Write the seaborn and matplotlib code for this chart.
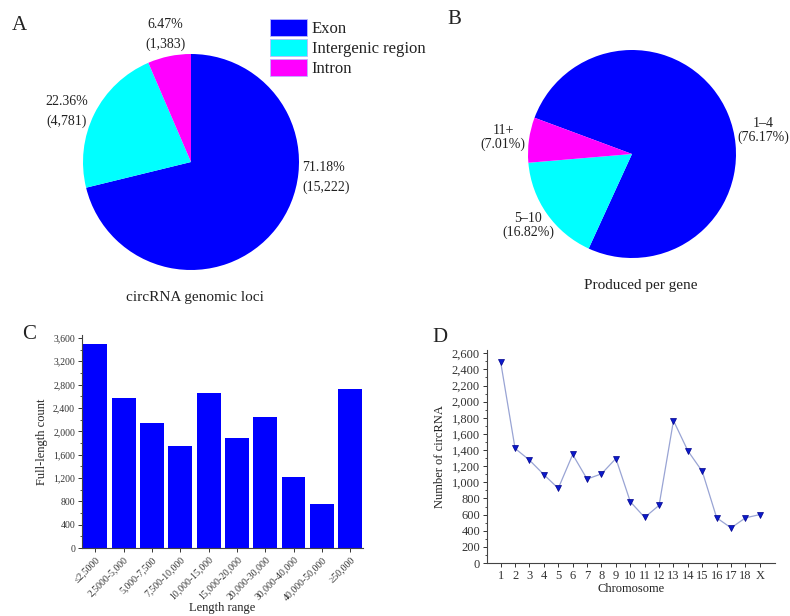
import matplotlib
matplotlib.use("Agg")
import matplotlib.pyplot as plt
import numpy as np
import pandas as pd
import seaborn as sns
from matplotlib.patches import Patch
from matplotlib.ticker import AutoMinorLocator, MultipleLocator, StrMethodFormatter

# --- Data ---
LOCI_LABELS = ["Exon", "Intergenic region", "Intron"]
LOCI_COUNTS = [15222, 4781, 1383]
LOCI_PCT = [71.18, 22.36, 6.47]

PER_GENE_LABELS = ["1–4", "5–10", "11+"]
PER_GENE_PCT = [76.17, 16.82, 7.01]

LENGTH_RANGES = ["≤2,5000", "2,5000-5,000", "5,000-7,500", "7,500-10,000",
                 "10,000-15,000", "15,000-20,000", "20,000-30,000",
                 "30,000-40,000", "40,000-50,000", "≥50,000"]
LENGTH_COUNTS = [3500, 2570, 2140, 1750, 2650, 1890, 2240, 1220, 750, 2730]

CHROMOSOMES = ["1", "2", "3", "4", "5", "6", "7", "8", "9", "10", "11", "12",
               "13", "14", "15", "16", "17", "18", "X"]
CIRC_COUNTS = [2490, 1420, 1275, 1095, 925, 1345, 1040, 1105, 1295, 760, 565,
               715, 1765, 1390, 1135, 560, 435, 560, 600]

PIE_COLORS = ["#0000FF", "#00FFFF", "#FF00FF"]
TEXT_COLOR = "#222222"

# --- Style ---
sns.set_theme(style="ticks")
plt.rcParams["font.family"] = ["Liberation Serif", "DejaVu Serif"]
plt.rcParams["text.color"] = TEXT_COLOR
plt.rcParams["axes.labelcolor"] = TEXT_COLOR
plt.rcParams["xtick.color"] = "#333333"
plt.rcParams["ytick.color"] = "#333333"

W, H = 790, 616
fig = plt.figure(figsize=(W / 100, H / 100), dpi=100)


def px_axes(left, top, width, height):
    """Axes placed by pixel box (top-left origin)."""
    return fig.add_axes([left / W, 1 - (top + height) / H, width / W, height / H])


# ==============================================================================
# Panel A: genomic loci pie
# ==============================================================================
ra = 108
ax_a = px_axes(191 - ra, 162 - ra, 2 * ra, 2 * ra)
ax_a.pie(LOCI_COUNTS, colors=PIE_COLORS, startangle=90, counterclock=False,
         radius=1, wedgeprops=dict(linewidth=0))
ax_a.set_xlim(-1, 1)
ax_a.set_ylim(-1, 1)
ax_a.set_aspect("equal")
ax_a.axis("off")

a_label_pos = [(1.03, -0.14, "left"), (-1.15, 0.47, "center"), (-0.24, 1.18, "center")]
for (x, y, ha), pct, cnt in zip(a_label_pos, LOCI_PCT, LOCI_COUNTS):
    ax_a.text(x, y, f"{pct:.2f}%\n({cnt:,})", ha=ha, va="center", fontsize=10,
              linespacing=1.65, clip_on=False)
ax_a.text(0.04, -1.25, "circRNA genomic loci", ha="center", va="center",
          fontsize=11, clip_on=False)

handles = [Patch(facecolor=c, edgecolor="#b8b8ff", linewidth=0.6) for c in PIE_COLORS]
fig.legend(handles, LOCI_LABELS, loc="upper left",
           bbox_to_anchor=(270 / W, 1 - 19 / H), bbox_transform=fig.transFigure,
           frameon=False, fontsize=12, handlelength=2.2, handleheight=1.15,
           labelspacing=0.14, handletextpad=0.3, borderpad=0, borderaxespad=0)

# ==============================================================================
# Panel B: circRNAs produced per gene
# ==============================================================================
rb = 104
ax_b = px_axes(632 - rb, 154 - rb, 2 * rb, 2 * rb)
ax_b.pie(PER_GENE_PCT, colors=PIE_COLORS, startangle=159.6, counterclock=False,
         radius=1, wedgeprops=dict(linewidth=0))
ax_b.set_xlim(-1, 1)
ax_b.set_ylim(-1, 1)
ax_b.set_aspect("equal")
ax_b.axis("off")

b_label_pos = [(1.26, 0.23), (-1.0, -0.69), (-1.24, 0.16)]
for (x, y), lab, pct in zip(b_label_pos, PER_GENE_LABELS, PER_GENE_PCT):
    ax_b.text(x, y, f"{lab}\n({pct:.2f}%)", ha="center", va="center", fontsize=10,
              linespacing=1.05, clip_on=False)
ax_b.text(0.08, -1.26, "Produced per gene", ha="center", va="center",
          fontsize=11, clip_on=False)

# ==============================================================================
# Panel C: full-length count by length range
# ==============================================================================
ax_c = px_axes(82, 335, 281, 213)
df_len = pd.DataFrame({"range": LENGTH_RANGES, "count": LENGTH_COUNTS})
sns.barplot(data=df_len, x="range", y="count", color="#0000FF", saturation=1,
            width=0.84, linewidth=0, ax=ax_c)
ax_c.set_xlim(-0.47, 9.45)
ax_c.set_ylim(0, 3650)
ax_c.yaxis.set_major_locator(MultipleLocator(400))
ax_c.yaxis.set_minor_locator(AutoMinorLocator(2))
ax_c.yaxis.set_major_formatter(StrMethodFormatter("{x:,.0f}"))
ax_c.tick_params(axis="both", labelsize=7, length=3, width=0.7, pad=2)
ax_c.tick_params(axis="y", which="minor", length=1.8, width=0.6)
plt.setp(ax_c.get_xticklabels(), rotation=45, ha="right", rotation_mode="anchor")
ax_c.set_xlabel("Length range", fontsize=9, labelpad=0)
ax_c.set_ylabel("Full-length count", fontsize=9, labelpad=4)
sns.despine(ax=ax_c)
for sp in ax_c.spines.values():
    sp.set_linewidth(0.8)
    sp.set_color("#444444")

# ==============================================================================
# Panel D: circRNAs per chromosome
# ==============================================================================
ax_d = px_axes(487, 350, 288, 213)
df_chr = pd.DataFrame({"pos": np.arange(len(CHROMOSOMES)), "count": CIRC_COUNTS})
sns.lineplot(data=df_chr, x="pos", y="count", sort=False, color="#99a4d4",
             linewidth=0.9, marker="v", markersize=4.3,
             markerfacecolor="#0a1acc", markeredgecolor="#00008b",
             markeredgewidth=0.5, ax=ax_d)
ax_d.set_xticks(df_chr["pos"])
ax_d.set_xticklabels(CHROMOSOMES)
ax_d.set_xlim(-0.95, 19.05)
ax_d.set_ylim(0, 2640)
ax_d.yaxis.set_major_locator(MultipleLocator(200))
ax_d.yaxis.set_minor_locator(AutoMinorLocator(2))
ax_d.yaxis.set_major_formatter(StrMethodFormatter("{x:,.0f}"))
ax_d.tick_params(axis="both", labelsize=9, length=3, width=0.7, pad=2)
ax_d.tick_params(axis="y", which="minor", length=1.8, width=0.6)
ax_d.set_xlabel("Chromosome", fontsize=9, labelpad=1)
ax_d.set_ylabel("Number of circRNA", fontsize=9, labelpad=4)
sns.despine(ax=ax_d)
for sp in ax_d.spines.values():
    sp.set_linewidth(0.8)
    sp.set_color("#444444")

# --- Panel letters ---
for letter, (x, y) in zip("ABCD", [(12, 25), (447, 20), (22, 335), (432, 338)]):
    fig.text(x / W, 1 - y / H, letter, ha="left", va="center", fontsize=15)

fig.savefig("out.png", dpi=100)
